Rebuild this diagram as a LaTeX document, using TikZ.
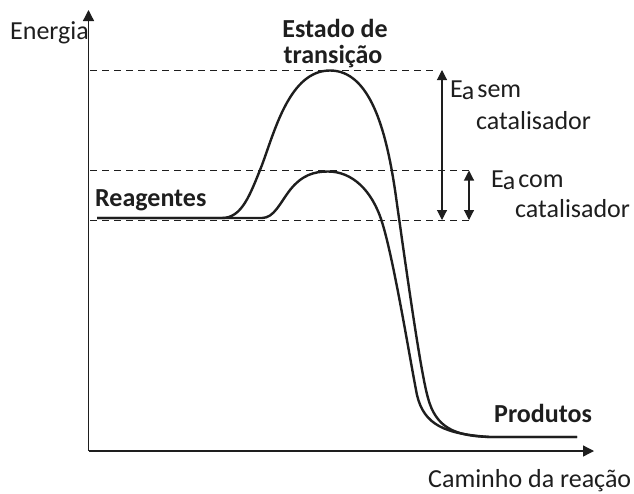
\documentclass[tikz,border=0pt]{standalone}
\usepackage{fontspec}
\setmainfont{Carlito}
\usetikzlibrary{arrows.meta}
\definecolor{ink}{HTML}{1E1E1E}
\begin{document}
\begin{tikzpicture}[x=1pt,y=-1pt,
  lbl/.style={anchor=base west,inner sep=0pt,font=\fontsize{26}{31}\selectfont,text=ink},
  bl/.style={lbl,font=\fontsize{26}{31}\selectfont\bfseries},
  axis/.style={draw=ink,line width=1.3pt,-{Triangle[length=11pt,width=11pt]}},
  curve/.style={draw=ink,line width=2.4pt,line join=round},
  guide/.style={draw=ink,line width=0.9pt,dash pattern=on 7pt off 5pt},
  ea/.style={draw=ink,line width=1.1pt,{Triangle[length=10pt,width=10pt]}-{Triangle[length=10pt,width=10pt]}}]
\useasboundingbox (0,0) rectangle (634,493);
% axes
\coordinate (O) at (88.5,451);
\coordinate (ytip) at (88.5,10);
\coordinate (xtip) at (594,451);
\draw[axis] (O) -- (ytip);
\draw[axis] (O) -- (xtip);
% guide lines
\coordinate (g1a) at (90,70);   \coordinate (g1b) at (436,70);
\coordinate (g2a) at (90,170);  \coordinate (g2b) at (471,170);
\coordinate (g3a) at (90,220);  \coordinate (g3b) at (471,220);
\draw[guide] (g1a) -- (g1b);
\draw[guide] (g2a) -- (g2b);
\draw[guide] (g3a) -- (g3b);
% activation energy arrows
\coordinate (a1t) at (442,70);  \coordinate (a1b) at (442,220);
\coordinate (a2t) at (469,170.5); \coordinate (a2b) at (469,220);
\draw[ea] (a1t) -- (a1b);
\draw[ea] (a2t) -- (a2b);
% curves
\draw[curve] (97,218) -- (222,218) .. controls (242,218) and (250,195) .. (262,165)
  .. controls (275,130) and (290,70.5) .. (330,70.5)
  .. controls (370,70.5) and (386,130) .. (395,190)
  .. controls (405,260) and (420,370) .. (428,398)
  .. controls (436,428) and (455,436) .. (490,437) -- (577,437);
\draw[curve] (97,218) -- (262,218) .. controls (274,218) and (280,203) .. (290,190)
  .. controls (302,175) and (314,171.5) .. (328,171.5)
  .. controls (352,171.5) and (372,190) .. (382,222)
  .. controls (394,260) and (410,360) .. (417,395)
  .. controls (424,425) and (445,434) .. (490,437) -- (577,437);
% labels
\node[lbl] (energia) at (10,39) {Energia};
\node[bl,anchor=base] (estado) at (335,37) {Estado de};
\node[bl,anchor=base] (transicao) at (333,63) {transição};
\node[bl] (reag) at (95,206) {Reagentes};
\node[bl] (prod) at (494,422) {Produtos};
\node[lbl] (caminho) at (428,487) {Caminho da reação};
\node[lbl] (easem) at (450,97) {E\kern-1pt\raisebox{-2.5pt}{a}\kern3pt sem};
\node[lbl] (cat1) at (476,129) {catalisador};
\node[lbl] (eacom) at (491,187) {E\kern-1pt\raisebox{-2.5pt}{a}\kern3pt com};
\node[lbl] (cat2) at (515,217) {catalisador};
\end{tikzpicture}
\end{document}
